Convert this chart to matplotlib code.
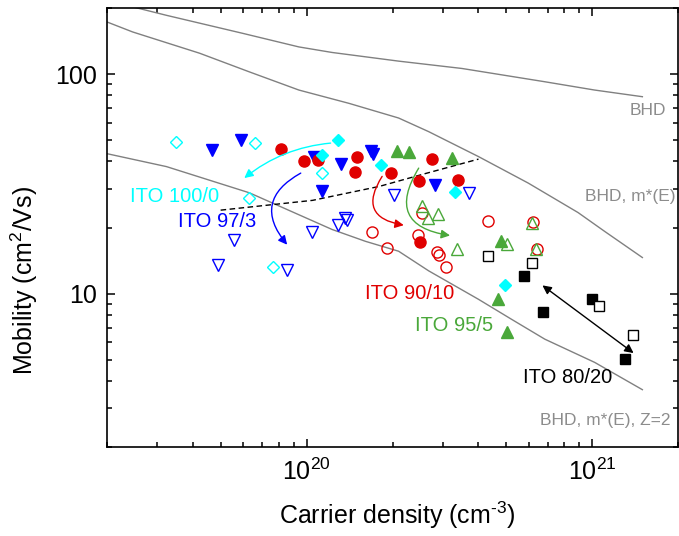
import matplotlib
matplotlib.use('Agg')
import matplotlib.pyplot as plt

plt.rcParams['font.family'] = ['Liberation Sans', 'DejaVu Sans']
plt.rcParams['mathtext.fontset'] = 'custom'
plt.rcParams['mathtext.rm'] = 'Liberation Sans'
plt.rcParams['mathtext.it'] = 'Liberation Sans:italic'

# ITO 100/0 (cyan diamonds)
cyan_open_x = [3.5e19, 6.6e19, 1.13e20, 6.3e19, 7.6e19]
cyan_open_y = [49.1, 48.4, 35.3, 27.3, 13.2]
cyan_fill_x = [1.29e20, 1.135e20, 1.82e20, 3.32e20, 4.95e20]
cyan_fill_y = [50.2, 42.9, 38.4, 28.9, 10.9]

# ITO 97/3 (blue down triangles)
blue_fill_x = [4.67e19, 5.89e19, 1.06e20, 1.316e20, 1.68e20, 1.71e20, 1.135e20, 2.82e20]
blue_fill_y = [44.9, 49.9, 42.0, 38.9, 44.5, 43.1, 29.4, 31.1]
blue_open_x = [5.58e19, 4.91e19, 8.53e19, 1.048e20, 1.29e20, 1.362e20, 1.388e20, 2.02e20, 3.71e20]
blue_open_y = [17.6, 13.5, 12.8, 19.1, 20.6, 22.1, 21.6, 28.0, 28.7]

# ITO 90/10 (red circles)
red_fill_x = [8.13e19, 9.8e19, 1.10e20, 1.504e20, 1.477e20, 1.97e20, 2.75e20, 2.48e20, 3.39e20, 2.49e20]
red_fill_y = [45.7, 40.0, 40.7, 41.9, 35.7, 35.5, 41.0, 32.7, 33.0, 17.2]
red_open_x = [1.70e20, 1.91e20, 2.46e20, 2.54e20, 2.86e20, 2.90e20, 3.09e20, 4.33e20, 6.22e20, 6.39e20]
red_open_y = [19.1, 16.2, 18.5, 23.2, 15.4, 15.0, 13.2, 21.5, 21.1, 16.0]

# ITO 95/5 (green up triangles)
green_fill_x = [2.07e20, 2.28e20, 3.24e20, 4.78e20, 4.69e20, 5.05e20]
green_fill_y = [44.7, 44.4, 41.4, 17.4, 9.42, 6.65]
green_open_x = [2.54e20, 2.66e20, 2.88e20, 3.36e20, 5.05e20, 6.17e20, 6.34e20]
green_open_y = [25.1, 22.2, 23.1, 15.9, 16.9, 21.0, 15.9]

# ITO 80/20 (black squares)
black_fill_x = [5.79e20, 6.74e20, 1.00e21, 1.306e21]
black_fill_y = [12.0, 8.25, 9.49, 5.03]
black_open_x = [4.33e20, 6.18e20, 1.054e21, 1.389e21]
black_open_y = [14.8, 13.8, 8.79, 6.49]

# model curves
bhd_x = [2.2e19, 3.23e19, 5.96e19, 9.4e19, 1.228e20, 2.10e20, 3.5e20, 6.83e20, 1.021e21, 1.5e21]
bhd_y = [210, 185.3, 153.5, 133.0, 125.5, 114.6, 106.1, 92.3, 84.6, 78.9]
mE_x = [2.0e19, 2.46e19, 4.22e19, 6.3e19, 9.4e19, 1.407e20, 2.10e20, 2.676e20, 4.0e20,
        5.97e20, 8.93e20, 1.107e21, 1.5e21]
mE_y = [172.8, 155.6, 124.5, 102.4, 84.6, 73.6, 63.1, 54.7, 42.1, 31.9, 23.4, 19.2, 14.6]
z2_x = [2.0e19, 3.23e19, 6.3e19, 1.228e20, 1.609e20, 2.10e20, 2.676e20, 4.0e20, 5.22e20,
        6.83e20, 1.021e21, 1.5e21]
z2_y = [43.4, 37.9, 28.8, 19.6, 17.3, 15.6, 12.7, 9.42, 7.64, 6.20, 4.86, 3.65]
dash_x = [5.0e19, 1.05e20, 1.8e20, 2.6e20, 4.0e20]
dash_y = [24.0, 26.6, 30.8, 35.2, 41.0]

cyan = '#00ffff'
blue = '#0000ff'
red = '#e00000'
green = '#4aa83a'
gray = '#808080'

fig = plt.figure(figsize=(6.79, 5.36), dpi=100)
ax = fig.add_axes([0.1576, 0.166, 0.841, 0.819])

ax.plot(bhd_x, bhd_y, color=gray, lw=1)
ax.plot(mE_x, mE_y, color=gray, lw=1)
ax.plot(z2_x, z2_y, color=gray, lw=1)
ax.plot(dash_x, dash_y, color='black', lw=1, ls=(0, (4, 2.5)))

ax.plot(blue_open_x, blue_open_y, 'v', ms=9, mfc='none', mec=blue, mew=1, ls='none')
ax.plot(blue_fill_x, blue_fill_y, 'v', ms=9, color=blue, ls='none')
ax.plot(red_fill_x, red_fill_y, 'o', ms=8, color=red, ls='none')
ax.plot(red_open_x, red_open_y, 'o', ms=8, mfc='none', mec=red, mew=1, ls='none')
ax.plot(cyan_open_x, cyan_open_y, 'D', ms=6.5, mfc='none', mec=cyan, mew=1, ls='none')
ax.plot(cyan_fill_x, cyan_fill_y, 'D', ms=6.5, color=cyan, ls='none')
ax.plot(green_fill_x, green_fill_y, '^', ms=9, color=green, ls='none')
ax.plot(green_open_x, green_open_y, '^', ms=9, mfc='none', mec=green, mew=1, ls='none')
ax.plot(black_fill_x, black_fill_y, 's', ms=7, color='black', ls='none')
ax.plot(black_open_x, black_open_y, 's', ms=7, mfc='white', mec='black', mew=1, ls='none')

# curved arrows
def carrow(x0, y0, x1, y1, col, rad):
    ax.annotate('', xy=(x1, y1), xytext=(x0, y0),
                arrowprops=dict(arrowstyle='-|>', color=col, lw=1,
                                mutation_scale=13, shrinkA=0, shrinkB=0,
                                connectionstyle='arc3,rad=%s' % rad))

carrow(1.214e20, 48.5, 6.05e19, 33.6, cyan, 0.15)
carrow(9.54e19, 35.4, 8.55e19, 16.7, blue, 0.6)
carrow(1.839e20, 34.2, 2.19e20, 20.5, red, 0.75)
carrow(2.47e20, 37.3, 3.18e20, 18.4, green, 0.75)
ax.annotate('', xy=(1.397e21, 5.36), xytext=(6.70e20, 10.9),
            arrowprops=dict(arrowstyle='<|-|>', color='black', lw=1,
                            mutation_scale=13, shrinkA=0, shrinkB=0))

ax.set_xscale('log')
ax.set_yscale('log')
ax.set_xlim(2e19, 2e21)
ax.set_ylim(2, 200)

ax.set_xticks([1e20, 1e21])
ax.set_xticklabels(['$10^{20}$', '$10^{21}$'])
ax.set_yticks([10, 100])
ax.set_yticklabels(['10', '100'])
ax.tick_params(which='both', direction='in', top=True, right=True, width=1.1)
ax.tick_params(which='major', length=6, labelsize=18)
ax.tick_params(axis='x', which='major', pad=8)
ax.tick_params(axis='y', which='major', pad=7)
ax.tick_params(which='minor', length=3.5)
ax.tick_params(axis='y', which='minor', labelleft=False)
ax.tick_params(axis='x', which='minor', labelbottom=False)
for s in ax.spines.values():
    s.set_linewidth(1.2)

ax.set_xlabel(r'Carrier density (cm$^{\text{-}3}$)', fontsize=18)
ax.set_ylabel('Mobility (cm$^{2}$/Vs)', fontsize=18)
ax.xaxis.set_label_coords(0.509, -0.12)
ax.yaxis.set_label_coords(-0.118, 0.38)

tk = ax.transAxes
ax.text(0.9785, 0.7677, 'BHD', color='#8c8c8c', fontsize=12.5, ha='right', va='center', transform=tk)
ax.text(0.9947, 0.5702, 'BHD, m*(E)', color='#8c8c8c', fontsize=12.5, ha='right', va='center', transform=tk)
ax.text(0.9872, 0.0615, 'BHD, m*(E), Z=2', color='#8c8c8c', fontsize=12.5, ha='right', va='center', transform=tk)

ax.text(0.0403, 0.5702, 'ITO 100/0', color=cyan, fontsize=14.5, ha='left', va='center', transform=tk)
ax.text(0.1243, 0.5132, 'ITO 97/3', color=blue, fontsize=14.5, ha='left', va='center', transform=tk)
ax.text(0.452, 0.350, 'ITO 90/10', color=red, fontsize=14.5, ha='left', va='center', transform=tk)
ax.text(0.5394, 0.2779, 'ITO 95/5', color=green, fontsize=14.5, ha='left', va='center', transform=tk)
ax.text(0.729, 0.1579, 'ITO 80/20', color='black', fontsize=14.5, ha='left', va='center', transform=tk)

fig.savefig('out.png', dpi=100)
